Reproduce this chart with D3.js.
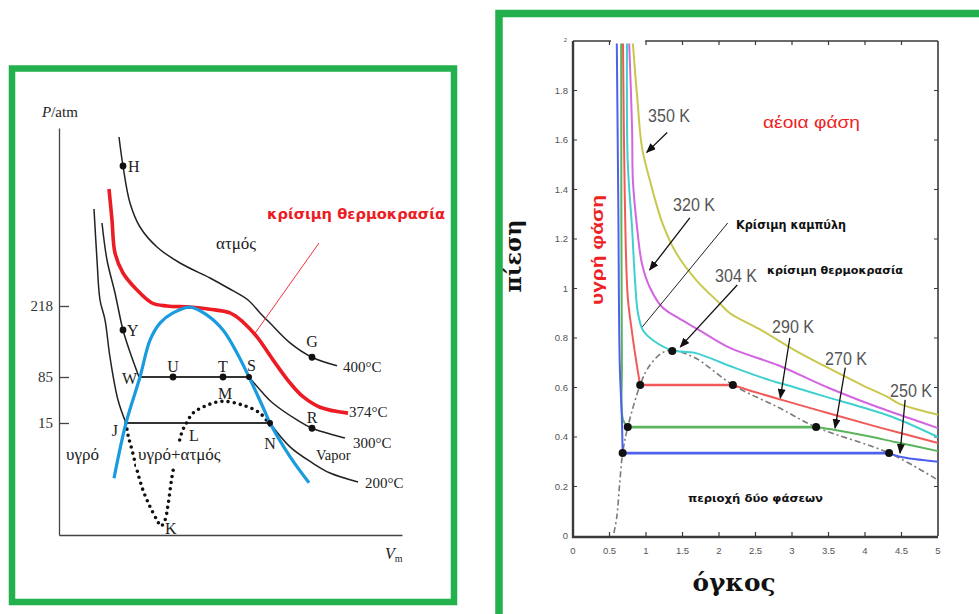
<!DOCTYPE html>
<html>
<head>
<meta charset="utf-8">
<script src="https://cdn.jsdelivr.net/npm/d3@7"></script>
<style>
  body { margin: 0; background: #fff; }
  svg { display: block; }
</style>
</head>
<body>
<svg id="viz" width="979" height="614"></svg>
<script>
/** ---------- data: left panel, schematic P–Vm isotherms (Vm arbitrary units, P in atm) ---------- */
const leftPTicks = [15, 85, 218];
const leftTempLabels = ["400°C", "374°C", "300°C", "200°C"];

const iso400 = [[0.60,387],[0.64,358],[0.71,321],[0.81,297],[0.98,277],[1.21,261],[1.51,246],[1.69,236],
  [1.89,224],[2.01,205],[2.11,186],[2.31,149],[2.53,122],[2.78,106]];
const iso374 = [[0.50,335],[0.53,304],[0.56,271],[0.64,251],[0.78,234],[0.93,221],[1.08,218],[1.31,216],
  [1.51,212],[1.71,205],[1.84,188],[1.98,160],[2.14,117],[2.31,76],[2.44,55],[2.61,39],[2.89,30]];
const iso300Liquid = [[0.43,301],[0.48,264],[0.56,231],[0.64,173],[0.72,126],[0.80,85]];
const iso300Vapor = [[1.90,85],[2.03,62],[2.14,45],[2.38,19.6],[2.53,14.3],[2.86,13.0]];
const iso200Liquid = [[0.35,315],[0.38,264],[0.41,224],[0.46,192],[0.51,122],[0.59,50],[0.67,15]];
const iso200Vapor = [[2.11,15],[2.31,11.8],[2.54,9.6],[2.71,8.3],[2.99,7.1]];
// [V liquid, V vapour, P]
const leftTieLines = [[0.80,1.90,85],[0.67,2.11,15]];
const leftDome = [[0.55,7.6],[0.67,15],[0.81,85],[0.91,154],[1.01,186],[1.14,205],[1.31,216],[1.48,201],
  [1.64,173],[1.78,130],[1.90,85],[2.04,39],[2.11,15],[2.31,10.5],[2.50,7.0]];
const vdwLoop = [[0.67,15],[0.69,13.4],[0.73,11.4],[0.78,8.7],[0.84,6.0],[0.91,3.8],[0.98,2.0],[1.02,1.2],
  [1.06,2.0],[1.09,4.0],[1.13,7.8],[1.18,11.1],[1.23,13.8],[1.28,16.5],[1.34,30],[1.48,42],[1.64,48],
  [1.84,42],[2.01,30],[2.11,14.7]];
const leftPoints = [["H",0.64,358],["Y",0.64,173],["U",1.14,85],["T",1.64,85],["S",1.90,85],
  ["N",2.11,15],["G",2.53,122],["R",2.53,14.3]];
const leftMarks = [["W",0.80,85],["M",1.64,48],["J",0.67,15],["L",1.28,16.5],["K",1.02,1.2]];

/** ---------- data: right panel, van der Waals isotherms ---------- */
const volTicks = [0, 0.5, 1, 1.5, 2, 2.5, 3, 3.5, 4, 4.5, 5];
const presTicks = [0, 0.2, 0.4, 0.6, 0.8, 1, 1.2, 1.4, 1.6, 1.8];
const rightTempLabels = ["350 K", "320 K", "304 K", "290 K", "270 K", "250 K"];

const iso350 = [[0.82,1.99],[0.88,1.77],[0.945,1.57],[1.05,1.44],[1.23,1.26],[1.42,1.14],[1.70,1.03],
  [2.01,0.94],[2.15,0.90],[2.59,0.83],[3.04,0.75],[3.49,0.68],[3.96,0.61],[4.32,0.56],[4.48,0.533],[5.0,0.49]];
const iso320 = [[0.77,1.99],[0.81,1.64],[0.82,1.44],[0.88,1.24],[0.945,1.10],[1.05,1.006],[1.22,0.925],
  [1.42,0.885],[1.74,0.83],[2.15,0.76],[2.81,0.69],[3.49,0.60],[4.18,0.52],[4.64,0.473],[5.0,0.436]];
const iso304 = [[0.74,1.99],[0.75,1.51],[0.81,1.24],[0.85,1.03],[0.89,0.90],[0.96,0.83],[1.10,0.79],
  [1.36,0.75],[1.67,0.74],[2.12,0.69],[2.59,0.64],[3.04,0.60],[3.49,0.56],[3.96,0.52],[4.41,0.477],[5.0,0.40]];
const iso290Liquid = [[0.685,1.99],[0.71,1.36],[0.75,0.966],[0.81,0.82],[0.88,0.68],[0.92,0.61]];
const iso290Vapor = [[2.19,0.61],[2.40,0.59],[2.86,0.55],[3.49,0.497],[4.18,0.44],[5.0,0.376]];
const iso270Liquid = [[0.66,1.99],[0.67,0.70],[0.685,0.47],[0.75,0.44]];
const iso270Vapor = [[3.33,0.44],[3.59,0.428],[3.96,0.408],[4.41,0.380],[5.0,0.343]];
const iso250Liquid = [[0.60,1.99],[0.62,1.36],[0.64,0.70],[0.67,0.47],[0.68,0.335]];
const iso250Vapor = [[4.33,0.335],[4.48,0.32],[5.0,0.30]];
// [V liquid, V vapour, P]
const rightTieLines = [[0.92,2.19,0.61],[0.75,3.33,0.44],[0.68,4.33,0.335]];
const coexistence = [[0.56,0.012],[0.60,0.077],[0.64,0.214],[0.68,0.335],[0.75,0.44],[0.92,0.61],[1.03,0.68],
  [1.22,0.74],[1.36,0.75],[1.67,0.72],[2.19,0.61],[2.81,0.52],[3.33,0.44],[4.33,0.335],[5.0,0.226]];
const criticalPoint = [1.36, 0.747];

/** ---------- setup ---------- */
const svg = d3.select("#viz");
const GREEN = "#22b14c";

// frames
svg.append("rect").attr("x", 12).attr("y", 68.5).attr("width", 442).attr("height", 533.5)
  .attr("fill", "none").attr("stroke", GREEN).attr("stroke-width", 6.5);
svg.append("rect").attr("x", 499).attr("y", 13.5).attr("width", 520).attr("height", 640)
  .attr("fill", "none").attr("stroke", GREEN).attr("stroke-width", 7.5);

/** ---------- left panel ---------- */
const xL = d3.scaleLinear().domain([0, 3.43]).range([59, 402]);
const yL = d3.scaleLinear().domain([0, 15, 85, 218, 396]).range([535, 423, 377, 306, 128]);
const lineL = d3.line().x(d => xL(d[0])).y(d => yL(d[1])).curve(d3.curveCatmullRom.alpha(0.5));

const gL = svg.append("g").attr("font-family", "'Liberation Serif', serif").attr("fill", "#222");

gL.append("g")
  .attr("transform", `translate(${xL(0)},0)`)
  .call(d3.axisLeft(yL).tickValues(leftPTicks).tickSizeInner(-10).tickSizeOuter(0).tickPadding(6))
  .call(g => g.select(".domain").attr("stroke", "#444").attr("stroke-width", 1.3))
  .call(g => g.selectAll(".tick line").attr("stroke", "#444").attr("stroke-width", 1.3))
  .call(g => g.selectAll(".tick text").attr("font-family", "'Liberation Serif', serif")
    .attr("font-size", 15).attr("fill", "#333"));

gL.append("g")
  .attr("transform", `translate(0,${yL(0)})`)
  .call(d3.axisBottom(xL).tickValues([]).tickSizeOuter(0))
  .call(g => g.select(".domain").attr("stroke", "#444").attr("stroke-width", 1.3));

const pLab = gL.append("text").attr("x", 42).attr("y", 117).attr("font-size", 15);
pLab.append("tspan").attr("font-style", "italic").text("P");
pLab.append("tspan").text("/atm");
const vLab = gL.append("text").attr("x", 385).attr("y", 559).attr("font-size", 16);
vLab.append("tspan").attr("font-style", "italic").text("V");
vLab.append("tspan").attr("font-size", 10).attr("dy", 3).text("m");

// isotherms
for (const seg of [iso400, iso300Liquid, iso300Vapor, iso200Liquid, iso200Vapor]) {
  gL.append("path").attr("d", lineL(seg)).attr("fill", "none")
    .attr("stroke", "#222").attr("stroke-width", 1.5);
}
for (const t of leftTieLines) {
  gL.append("path").attr("d", lineL([[t[0], t[2]], [t[1], t[2]]]))
    .attr("fill", "none").attr("stroke", "#333").attr("stroke-width", 1.8);
}
gL.append("path").attr("d", lineL(vdwLoop)).attr("fill", "none")
  .attr("stroke", "#111").attr("stroke-width", 3.6)
  .attr("stroke-linecap", "round").attr("stroke-dasharray", "0 6.2");
// the two-phase label sits on a white patch that interrupts the dotted loop
gL.append("rect").attr("x", 136).attr("y", 443).attr("width", 92).attr("height", 24).attr("fill", "#fff");
gL.append("path").attr("d", lineL(iso374)).attr("fill", "none")
  .attr("stroke", "#ec1c24").attr("stroke-width", 3.6).attr("stroke-linejoin", "round");
gL.append("path").attr("d", lineL(leftDome)).attr("fill", "none")
  .attr("stroke", "#1a9be0").attr("stroke-width", 3.2).attr("stroke-linejoin", "round");

// pointer line for the critical isotherm
gL.append("path").attr("d", d3.line()([[xL(2.60), yL(281)], [xL(1.96), yL(167)]]))
  .attr("stroke", "#ec1c24").attr("stroke-width", 0.9);

gL.selectAll("circle.pt").data(leftPoints).join("circle").attr("class", "pt")
  .attr("cx", d => xL(d[1])).attr("cy", d => yL(d[2]))
  .attr("r", d => d[0] === "S" || d[0] === "N" ? 3 : 3.4).attr("fill", "#111");

const letterOffsets = {
  H: [5, 6, "start"], Y: [4, 6, "start"], U: [0, -5, "middle"], T: [0, -5, "middle"], S: [-2, -6, "start"],
  N: [0, 26, "middle"], G: [0, -10, "middle"], R: [0, -5, "middle"],
  W: [-2, 7, "end"], M: [2, -2, "middle"], J: [-8, 13, "end"], L: [2, 19, "start"], K: [4, 8, "start"]
};
gL.selectAll("text.pt").data(leftPoints.concat(leftMarks)).join("text").attr("class", "pt")
  .attr("x", d => xL(d[1]) + letterOffsets[d[0]][0])
  .attr("y", d => yL(d[2]) + letterOffsets[d[0]][1])
  .attr("text-anchor", d => letterOffsets[d[0]][2])
  .attr("font-size", 16).text(d => d[0]);

const isoEnds = [iso400, iso374, iso300Vapor, iso200Vapor].map(a => a[a.length - 1]);
const endOffsets = [[6, 6], [1, 4], [8, 10], [7, 6]];
gL.selectAll("text.temp").data(leftTempLabels).join("text").attr("class", "temp")
  .attr("x", (d, i) => xL(isoEnds[i][0]) + endOffsets[i][0])
  .attr("y", (d, i) => yL(isoEnds[i][1]) + endOffsets[i][1])
  .attr("font-size", 15).text(d => d);

gL.append("text").attr("x", 316).attr("y", 460).attr("font-size", 14.5).text("Vapor");
gL.append("text").attr("x", 66).attr("y", 460).attr("font-size", 17).text("υγρό");
gL.append("text").attr("x", 138).attr("y", 460).attr("font-size", 17).text("υγρό+ατμός");
gL.append("text").attr("x", 216).attr("y", 249).attr("font-size", 17).text("ατμός");
gL.append("text").attr("x", 267).attr("y", 219)
  .attr("font-family", "'DejaVu Sans', sans-serif").attr("font-weight", "bold")
  .attr("font-size", 14).attr("fill", "#ec1c24")
  .attr("textLength", 178).attr("lengthAdjust", "spacingAndGlyphs")
  .text("κρίσιμη θερμοκρασία");

/** ---------- right panel ---------- */
const xR = d3.scaleLinear().domain([0, 5]).range([573, 938]);
const yR = d3.scaleLinear().domain([0, 2]).range([536, 41]);
const lineR = d3.line().x(d => xR(d[0])).y(d => yR(d[1])).curve(d3.curveCatmullRom.alpha(0.5));

const gR = svg.append("g").attr("font-family", "'Liberation Sans', Arial, sans-serif");

svg.append("defs").append("marker")
  .attr("id", "arrowHead")
  .attr("viewBox", "0 -4 10 8")
  .attr("refX", 9).attr("refY", 0)
  .attr("markerWidth", 10).attr("markerHeight", 8)
  .attr("orient", "auto")
  .attr("markerUnits", "userSpaceOnUse")
  .append("path").attr("d", "M0,-4L10,0L0,4Z").attr("fill", "#111");

// frame (top border is broken where the isotherms leave the box)
const frame = gR.append("g").attr("stroke", "#3a3a3a").attr("fill", "none");
frame.append("path").attr("d", `M${xR(0)},${yR(2)}V${yR(0) + 1}H${xR(5)}`).attr("stroke-width", 2.4);
frame.append("path").attr("d", `M${xR(5)},${yR(0)}V${yR(2)}`).attr("stroke-width", 1.6);
frame.append("path").attr("d", `M${xR(0)},${yR(2)}H${xR(0.52)}M${xR(0.99)},${yR(2)}H${xR(5)}`)
  .attr("stroke-width", 1.6);
frame.selectAll("path.tt").data(volTicks.filter(v => v > 0 && v < 5)).join("path").attr("class", "tt")
  .attr("d", v => `M${xR(v)},${yR(2)}v4M${xR(v)},${yR(0)}v-4`).attr("stroke-width", 1.2);
frame.selectAll("path.rt").data(presTicks.filter(p => p > 0)).join("path").attr("class", "rt")
  .attr("d", p => `M${xR(5)},${yR(p)}h-4M${xR(0)},${yR(p)}h4`).attr("stroke-width", 1.2);

gR.append("g").selectAll("text").data(volTicks).join("text")
  .attr("x", v => xR(v)).attr("y", yR(0) + 18)
  .attr("text-anchor", "middle").attr("font-size", 9.5).attr("fill", "#555")
  .text(v => v);
gR.append("g").selectAll("text").data(presTicks).join("text")
  .attr("x", xR(0) - 5).attr("y", p => yR(p) + 3)
  .attr("text-anchor", "end").attr("font-size", 9.5).attr("fill", "#555")
  .text(p => d3.format(".1~f")(p));
gR.append("text").attr("x", xR(0) - 6).attr("y", yR(2) + 1)
  .attr("text-anchor", "end").attr("font-size", 6).attr("fill", "#555").text("2");

// coexistence curve
gR.append("path").attr("d", lineR(coexistence)).attr("fill", "none")
  .attr("stroke", "#7a7a7a").attr("stroke-width", 1.6).attr("stroke-dasharray", "6 3 2 3");

const isoColors = ["#c9c84e", "#d266e0", "#3fd0cf", "#f25a5a", "#5bb45b", "#5060ee"];
const rightSeries = [
  [iso350], [iso320], [iso304],
  [iso290Liquid, iso290Vapor], [iso270Liquid, iso270Vapor], [iso250Liquid, iso250Vapor]
];
rightSeries.forEach((segs, i) => {
  for (const seg of segs) {
    gR.append("path").attr("d", lineR(seg)).attr("fill", "none")
      .attr("stroke", isoColors[i]).attr("stroke-width", 2);
  }
});
rightTieLines.forEach((t, i) => {
  gR.append("path").attr("d", lineR([[t[0], t[2]], [t[1], t[2]]])).attr("fill", "none")
    .attr("stroke", isoColors[3 + i]).attr("stroke-width", 2.6);
});

const rightDots = rightTieLines.flatMap(t => [[t[0], t[2]], [t[1], t[2]]]).concat([criticalPoint]);
gR.selectAll("circle.dot").data(rightDots).join("circle").attr("class", "dot")
  .attr("cx", d => xR(d[0])).attr("cy", d => yR(d[1])).attr("r", 4).attr("fill", "#111");

// arrows from the temperature labels to their isotherms
const arrows = [
  [[1.29, 1.63], [1.01, 1.55]],
  [[1.60, 1.285], [1.05, 1.075]],
  [[2.25, 1.014], [1.47, 0.764]],
  [[2.97, 0.80], [2.84, 0.558]],
  [[3.73, 0.68], [3.59, 0.436]],
  [[4.55, 0.55], [4.48, 0.335]]
];
gR.selectAll("path.arrow").data(arrows).join("path").attr("class", "arrow")
  .attr("d", d => d3.line()(d.map(p => [xR(p[0]), yR(p[1])])))
  .attr("stroke", "#111").attr("stroke-width", 1.3).attr("marker-end", "url(#arrowHead)");
gR.append("path").attr("d", d3.line()([[xR(2.12), yR(1.265)], [xR(0.95), yR(0.845)]]))
  .attr("stroke", "#222").attr("stroke-width", 1);

const tempLabelPos = [[648, 122], [673, 211], [715, 282], [772, 333], [825, 365], [890, 397]];
gR.selectAll("text.temp").data(rightTempLabels).join("text").attr("class", "temp")
  .attr("x", (d, i) => tempLabelPos[i][0]).attr("y", (d, i) => tempLabelPos[i][1])
  .attr("font-size", 19).attr("fill", "#555")
  .attr("textLength", 42).attr("lengthAdjust", "spacingAndGlyphs")
  .text(d => d);

gR.append("text").attr("x", 763).attr("y", 128).attr("font-size", 17).attr("fill", "#ee2224")
  .attr("textLength", 97).attr("lengthAdjust", "spacingAndGlyphs").text("αέοια φάση");

const boldSans = "'DejaVu Sans', sans-serif";
gR.append("text").attr("x", 736).attr("y", 229).attr("font-family", boldSans).attr("font-weight", "bold")
  .attr("font-size", 11.5).attr("fill", "#111")
  .attr("textLength", 110).attr("lengthAdjust", "spacingAndGlyphs").text("Κρίσιμη καμπύλη");
gR.append("text").attr("x", 767).attr("y", 274).attr("font-family", boldSans).attr("font-weight", "bold")
  .attr("font-size", 11).attr("fill", "#111")
  .attr("textLength", 136).attr("lengthAdjust", "spacingAndGlyphs").text("κρίσιμη θερμοκρασία");
gR.append("text").attr("x", 688).attr("y", 502).attr("font-family", boldSans).attr("font-weight", "bold")
  .attr("font-size", 11).attr("fill", "#111")
  .attr("textLength", 135).attr("lengthAdjust", "spacingAndGlyphs").text("περιοχή δύο φάσεων");

gR.append("text").attr("transform", "translate(603,250) rotate(-90)")
  .attr("text-anchor", "middle").attr("font-size", 17).attr("font-weight", "bold").attr("fill", "#ee2224")
  .attr("textLength", 110).attr("lengthAdjust", "spacingAndGlyphs").text("υγρή φάση");

const boldSerif = "'DejaVu Serif', serif";
gR.append("text").attr("transform", "translate(521,256) rotate(-90)")
  .attr("text-anchor", "middle").attr("font-family", boldSerif).attr("font-weight", "bold")
  .attr("font-size", 22).attr("fill", "#111")
  .attr("textLength", 73).attr("lengthAdjust", "spacingAndGlyphs").text("πίεση");
gR.append("text").attr("x", 734).attr("y", 591).attr("text-anchor", "middle")
  .attr("font-family", boldSerif).attr("font-weight", "bold")
  .attr("font-size", 25).attr("fill", "#111")
  .attr("textLength", 83).attr("lengthAdjust", "spacingAndGlyphs").text("όγκος");
</script>
</body>
</html>
